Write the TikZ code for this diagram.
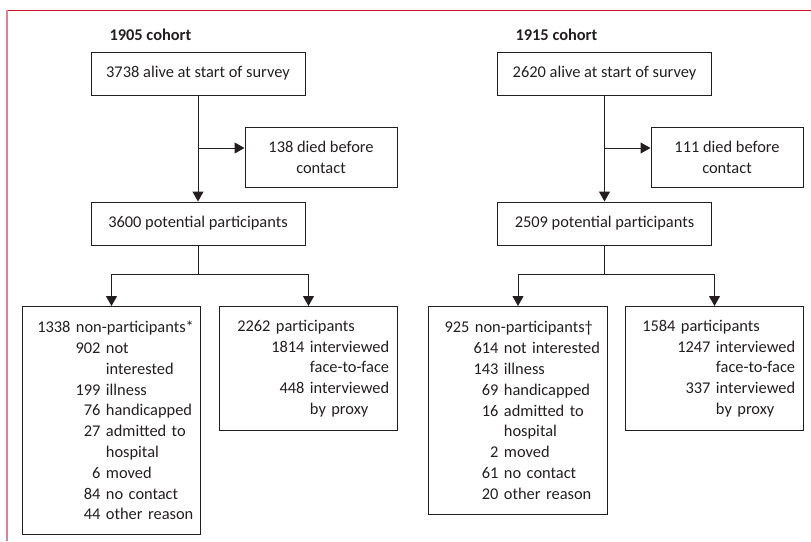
\documentclass[tikz,border=0pt]{standalone}
\usepackage{fontspec}
\setmainfont{Carlito}
\usetikzlibrary{arrows.meta}
\definecolor{ink}{RGB}{35,31,32}
\definecolor{framered}{RGB}{200,16,46}
\definecolor{framepink}{RGB}{222,128,155}
\newcommand{\cntline}[3]{\makebox[\linewidth][l]{\makebox[#1][r]{#2}\ #3}}

\begin{document}
\begin{tikzpicture}[x=1pt, y=-1pt,
    every node/.style={font=\fontsize{16.4}{20.8}\selectfont, text=ink},
    box/.style={draw=ink, line width=1pt, inner sep=0pt},
    headbox/.style={box, minimum width=214pt, minimum height=43pt},
    deathbox/.style={box, minimum width=152pt, minimum height=60pt, align=center},
    listbox/.style={box, anchor=north west, inner xsep=6pt, align=left},
    cohort/.style={anchor=west, font=\fontsize{16.4}{20.8}\selectfont\bfseries},
    link/.style={draw=ink, line width=1pt},
    flow/.style={link, -{Triangle[length=10pt,width=11pt]}}]

\useasboundingbox (0,0) rectangle (811,541);
\draw[framered, line width=1pt] (6,10.5) -- (811,10.5);
\draw[framepink, line width=2pt] (7,10) -- (7,541);

\node[cohort] (title05) at (106,35) {1905 cohort};
\node[headbox] (alive05) at (198,73.5) {3738 alive at start of survey};
\node[deathbox] (died05) at (321,157) {138 died before\\contact};
\node[headbox] (pot05) at (198,223.5) {3600 potential participants};
\node[listbox, text width=166pt, minimum height=228pt] (np05) at (22,306) {%
    \cntline{42pt}{1338}{non-participants*}\\
    \cntline{72pt}{902}{not}\\
    \cntline{72pt}{}{interested}\\
    \cntline{72pt}{199}{illness}\\
    \cntline{72pt}{76}{handicapped}\\
    \cntline{72pt}{27}{admitted to}\\
    \cntline{72pt}{}{hospital}\\
    \cntline{72pt}{6}{moved}\\
    \cntline{72pt}{84}{no contact}\\
    \cntline{72pt}{44}{other reason}};
\node[listbox, text width=166pt, minimum height=124pt] (pt05) at (219,306) {%
    \cntline{45pt}{2262}{participants}\\
    \cntline{79pt}{1814}{interviewed}\\
    \cntline{79pt}{}{face-to-face}\\
    \cntline{79pt}{448}{interviewed}\\
    \cntline{79pt}{}{by proxy}};

\node[cohort] (title15) at (512,35) {1915 cohort};
\node[headbox] (alive15) at (604.5,73.5) {2620 alive at start of survey};
\node[deathbox] (died15) at (727,157) {111 died before\\contact};
\node[headbox] (pot15) at (604.5,223.5) {2509 potential participants};
\node[listbox, text width=167pt, minimum height=208pt] (np15) at (428,306) {%
    \cntline{35pt}{925}{non-participants\textdagger}\\
    \cntline{64pt}{614}{not interested}\\
    \cntline{64pt}{143}{illness}\\
    \cntline{64pt}{69}{handicapped}\\
    \cntline{64pt}{16}{admitted to}\\
    \cntline{64pt}{}{hospital}\\
    \cntline{64pt}{2}{moved}\\
    \cntline{64pt}{61}{no contact}\\
    \cntline{64pt}{20}{other reason}};
\node[listbox, text width=166pt, minimum height=124pt] (pt15) at (625,306) {%
    \cntline{44pt}{1584}{participants}\\
    \cntline{79pt}{1247}{interviewed}\\
    \cntline{79pt}{}{face-to-face}\\
    \cntline{79pt}{337}{interviewed}\\
    \cntline{79pt}{}{by proxy}};

\coordinate (tap05) at (198,148);
\coordinate (split05) at (198,274);
\coordinate (tap15) at (604.5,148);
\coordinate (split15) at (604.5,274);

\draw[flow] (alive05.south) -- (pot05.north);
\draw[flow] (tap05) -- (tap05 -| died05.west);
\draw[link] (pot05.south) -- (split05);
\draw[flow] (split05) -| (np05.north);
\draw[flow] (split05) -| (pt05.north);

\draw[flow] (alive15.south) -- (pot15.north);
\draw[flow] (tap15) -- (tap15 -| died15.west);
\draw[link] (pot15.south) -- (split15);
\draw[flow] (split15) -| (np15.north);
\draw[flow] (split15) -| (pt15.north);

\end{tikzpicture}
\end{document}
